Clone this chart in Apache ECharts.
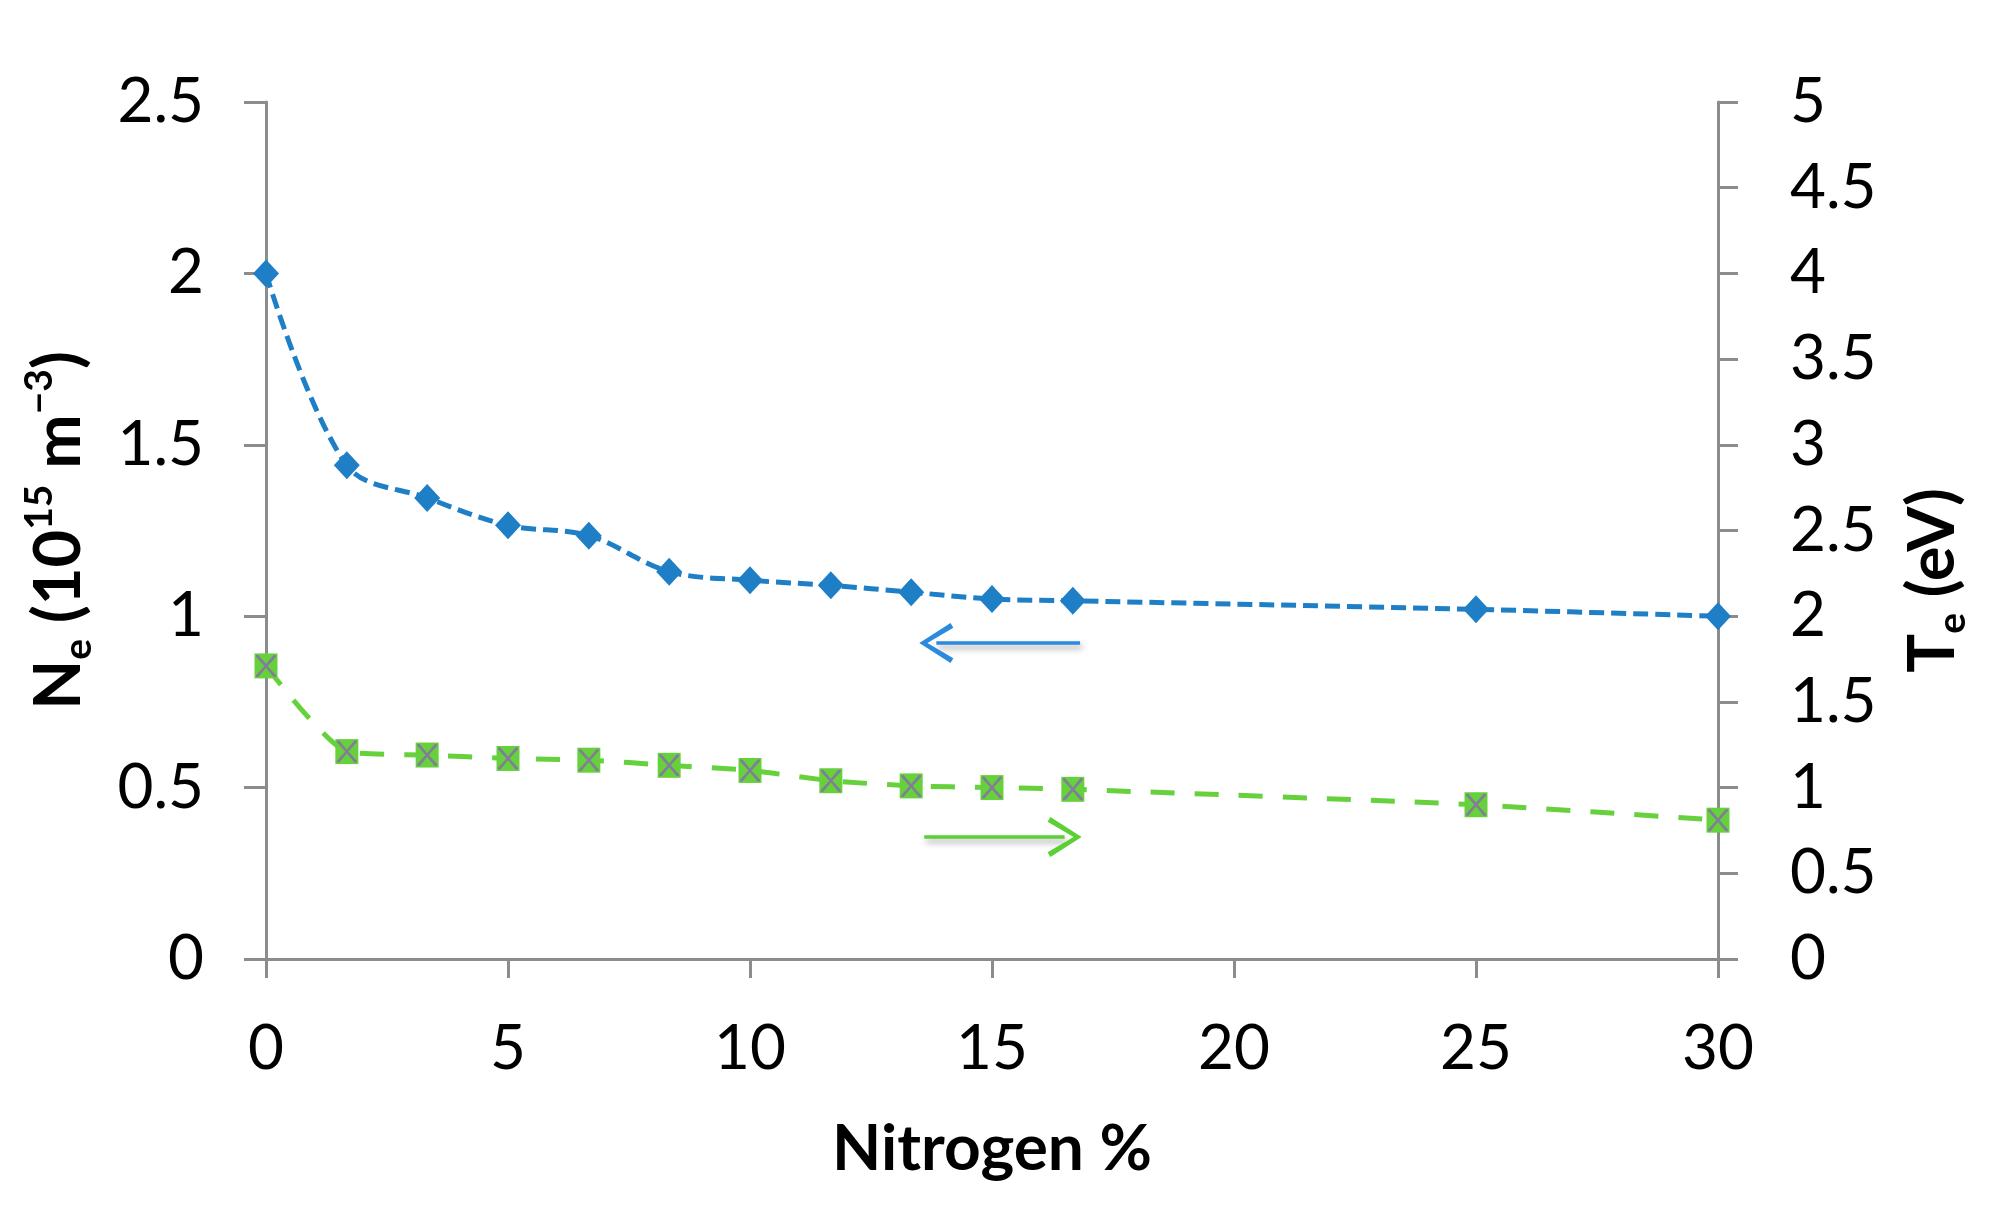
<!DOCTYPE html>
<html>
<head>
<meta charset="utf-8">
<script src="https://cdn.jsdelivr.net/npm/echarts@6/dist/echarts.min.js"></script>
<style>
html,body{margin:0;padding:0;background:#fff;}
#chart{width:2011px;height:1229px;}
</style>
</head>
<body>
<div id="chart"></div>
<script>
// ---- data ----
const nitrogen = [0, 1.67, 3.33, 5, 6.67, 8.33, 10, 11.67, 13.33, 15, 16.67, 25, 30];
const ne = [2.0, 1.44, 1.345, 1.265, 1.235, 1.13, 1.105, 1.09, 1.07, 1.05, 1.045, 1.02, 1.0];
const te = [1.71, 1.21, 1.19, 1.17, 1.16, 1.13, 1.10, 1.04, 1.01, 1.00, 0.99, 0.90, 0.81];
const xTicks = [0, 5, 10, 15, 20, 25, 30];
const neArrow = [[16.82, 0.922], [13.85, 0.922]];
const teArrow = [[13.6, 0.712], [16.5, 0.712]];

const neData = nitrogen.map((x, i) => [x, ne[i]]);
const teData = nitrogen.map((x, i) => [x, te[i]]);

const FONT = 'Lato, "Open Sans", sans-serif';
const AXC = '#8c8c8c';
const BLUE = '#1f7fc6';
const GREEN = '#66d13c';
const PURPLE = '#8a68b0';
const chevron = 'path://M10,0 L20,17.8 L17.6,19.4 L10,4.6 L2.4,19.4 L0,17.8 Z';
const xMark = 'path://M0,0 L2.4,0 L10,8.3 L17.6,0 L20,0 L20,1.6 L11.6,10 L20,18.4 L20,20 L17.6,20 L10,11.7 L2.4,20 L0,20 L0,18.4 L8.4,10 L0,1.6 Z';

const titleRich = {
  b: {fontFamily: FONT, fontWeight: 'bold', fontSize: 65, color: '#000', lineHeight: 78},
  sub: {fontFamily: FONT, fontWeight: 'bold', fontSize: 39, color: '#000', lineHeight: 46, verticalAlign: 'bottom'},
  sup: {fontFamily: FONT, fontWeight: 'bold', fontSize: 39, color: '#000', lineHeight: 42, verticalAlign: 'top'}
};

const chart = echarts.init(document.getElementById('chart'), null, {renderer: 'canvas'});
chart.setOption({
  animation: false,
  backgroundColor: '#fff',
  grid: {left: 266, right: 293, top: 102, bottom: 270, containLabel: false},
  xAxis: {
    type: 'value', min: 0, max: 30, interval: 5,
    name: 'Nitrogen %', nameLocation: 'middle', nameGap: 158,
    nameTextStyle: {fontFamily: FONT, fontWeight: 'bold', fontSize: 64, color: '#000'},
    axisLine: {show: true, onZero: false, lineStyle: {color: AXC, width: 3}},
    axisTick: {show: true, inside: false, length: 19, lineStyle: {color: AXC, width: 3}},
    axisLabel: {margin: 59, fontFamily: FONT, fontSize: 62, color: '#000',
      formatter: v => xTicks.includes(v) ? String(v) : ''},
    splitLine: {show: false}
  },
  yAxis: [{
    type: 'value', min: 0, max: 2.5, interval: 0.5, position: 'left',
    name: '{b|N}{sub|e}{b| (10}{sup|15}{b| m}{sup|−3}{b|)}',
    nameLocation: 'middle', nameRotate: 90, nameGap: 168,
    nameTextStyle: {rich: titleRich},
    axisLine: {show: true, lineStyle: {color: AXC, width: 3}},
    axisTick: {show: true, inside: false, length: 22, lineStyle: {color: AXC, width: 3}},
    axisLabel: {margin: 62, fontFamily: FONT, fontSize: 62, color: '#000'},
    splitLine: {show: false}
  }, {
    type: 'value', min: 0, max: 5, interval: 0.5, position: 'right',
    name: '{b|T}{sub|e}{b| (eV)}',
    nameLocation: 'middle', nameRotate: 90, nameGap: 176,
    nameTextStyle: {rich: titleRich, padding: [0, 100, 0, 0]},
    axisLine: {show: true, lineStyle: {color: AXC, width: 3}},
    axisTick: {show: true, inside: false, length: 20, lineStyle: {color: AXC, width: 3}},
    axisLabel: {margin: 72, fontFamily: FONT, fontSize: 62, color: '#000'},
    splitLine: {show: false}
  }],
  series: [{
    name: 'Ne', type: 'line', yAxisIndex: 0, data: neData, smooth: 0.35,
    symbol: 'diamond', symbolSize: [26, 28],
    itemStyle: {color: BLUE},
    lineStyle: {color: BLUE, width: 5, type: [15, 7]},
    z: 3,
    markLine: {
      silent: true, symbol: ['none', chevron], symbolSize: [40, 34],
      label: {show: false},
      lineStyle: {color: '#2a8ade', width: 3.5, type: 'solid', shadowColor: 'rgba(0,0,0,0.35)', shadowBlur: 6, shadowOffsetX: 2, shadowOffsetY: 4},
      data: [[{coord: neArrow[0]}, {coord: neArrow[1]}]]
    }
  }, {
    name: 'Te', type: 'line', yAxisIndex: 1, data: teData, smooth: 0.2,
    symbol: 'rect', symbolSize: [23, 25],
    itemStyle: {color: GREEN},
    lineStyle: {color: GREEN, width: 5, type: [24, 20]},
    z: 3,
    markLine: {
      silent: true, symbol: ['none', chevron], symbolSize: [40, 34],
      label: {show: false},
      lineStyle: {color: '#5ccf35', width: 3.5, type: 'solid', shadowColor: 'rgba(0,0,0,0.35)', shadowBlur: 6, shadowOffsetX: 2, shadowOffsetY: 4},
      data: [[{coord: teArrow[0]}, {coord: teArrow[1]}]]
    }
  }, {
    name: 'Te marks', type: 'scatter', yAxisIndex: 1, data: teData,
    symbol: xMark, symbolSize: [20, 22],
    itemStyle: {color: PURPLE}, z: 4, silent: true
  }]
});
</script>
</body>
</html>
